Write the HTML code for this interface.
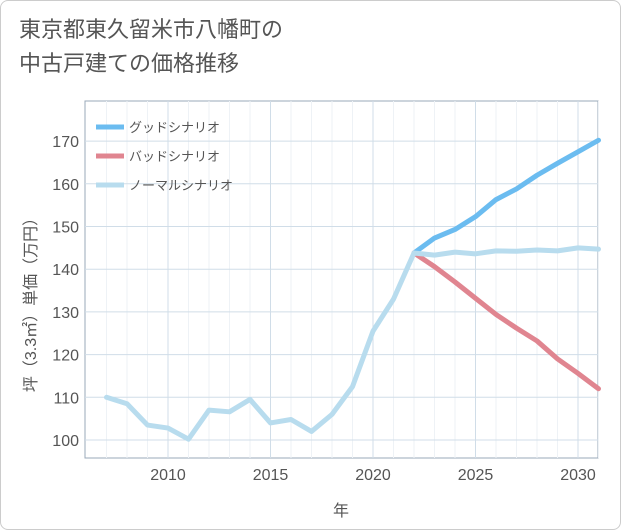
<!DOCTYPE html>
<html><head><meta charset="utf-8"><style>
body{margin:0;background:#fff;font-family:"Liberation Sans","Noto Sans CJK JP",sans-serif;}
#card{position:absolute;left:0;top:0;width:619px;height:528px;border:1px solid #ccc;border-radius:8px;background:#fff;}
#title{position:absolute;left:18px;top:12px;font-size:22px;line-height:34px;color:#555;}
</style></head><body>
<div id="card">
<div id="title">東京都東久留米市八幡町の<br>中古戸建ての価格推移</div>
<svg id="chart" width="621" height="530" style="position:absolute;left:0;top:0"></svg>
</div>
<script>
const years=[2007,2008,2009,2010,2011,2012,2013,2014,2015,2016,2017,2018,2019,2020,2021,2022,2023,2024,2025,2026,2027,2028,2029,2030,2031];
const normalVals=[110,108.5,103.5,102.8,100.2,107,106.6,109.5,104,104.8,102,106,112.5,125.5,133,143.8,143.3,144,143.6,144.3,144.2,144.5,144.3,145,144.7];
const goodYears=[2022,2023,2024,2025,2026,2027,2028,2029,2030,2031];
const goodVals=[143.8,147.3,149.3,152.3,156.3,158.8,162,164.8,167.5,170.2];
const badVals=[143.8,140.6,137,133.2,129.4,126.2,123.2,119,115.6,112];
const xTicks=[2010,2015,2020,2025,2030];
const yTicks=[100,110,120,130,140,150,160,170];
const NS="http://www.w3.org/2000/svg";
const svg=document.getElementById('chart');
const L=84,R=597,T=100,B=457;
const x=v=>167+(v-2010)*20.5;
const y=v=>439-(v-100)*4.27;
function mk(t,a){const e=document.createElementNS(NS,t);for(const k in a)e.setAttribute(k,a[k]);svg.appendChild(e);return e;}
let bg=mk('rect',{x:L,y:T,width:R-L,height:B-T,fill:'#fff',stroke:'#9aa8b8'});


for(let yr=2007;yr<=2031;yr++){if(yr%5===0)continue;const g=mk('line',{x1:x(yr),x2:x(yr),y1:T,y2:B,stroke:'#eef2f6'});}
xTicks.forEach(v=>{const g=mk('line',{x1:x(v),x2:x(v),y1:T,y2:B,stroke:'#d0dde8'});


const t=mk('text',{x:x(v),y:479,'text-anchor':'middle','font-size':16,fill:'#555'});t.textContent=v;

});
yTicks.forEach(v=>{const g=mk('line',{x1:L,x2:R,y1:y(v),y2:y(v),stroke:'#d0dde8'});


const t=mk('text',{x:78,y:y(v)+6,'text-anchor':'end','font-size':16,fill:'#555'});t.textContent=v;

});
function line(xs,vs,c,n){const p=mk('polyline',{points:xs.map((yr,i)=>x(yr)+','+y(vs[i])).join(' '),fill:'none',stroke:c,'stroke-width':5,'stroke-linejoin':'round','stroke-linecap':'round'});

}
line(goodYears,goodVals,'#6bbcf0','good-scenario-line');
line(goodYears,badVals,'#e08590','bad-scenario-line');
line(years,normalVals,'#b8dcee','normal-scenario-line');
const legend=[['グッドシナリオ','#6bbcf0'],['バッドシナリオ','#e08590'],['ノーマルシナリオ','#b8dcee']];
legend.forEach((l,i)=>{const yy=126+i*29;
const s=mk('line',{x1:95,x2:123,y1:yy,y2:yy,stroke:l[1],'stroke-width':5});


const t=mk('text',{x:128,y:yy+5,'font-size':13,fill:'#555'});t.textContent=l[0];

});
const xt=mk('text',{x:340,y:515,'text-anchor':'middle','font-size':16,fill:'#555'});xt.textContent='年';


const yt=mk('text',{x:0,y:0,'text-anchor':'middle','font-size':16,fill:'#555',transform:'translate(35,300) rotate(-90)'});yt.textContent='坪（3.3㎡）単価（万円）';


</script>
</body></html>
